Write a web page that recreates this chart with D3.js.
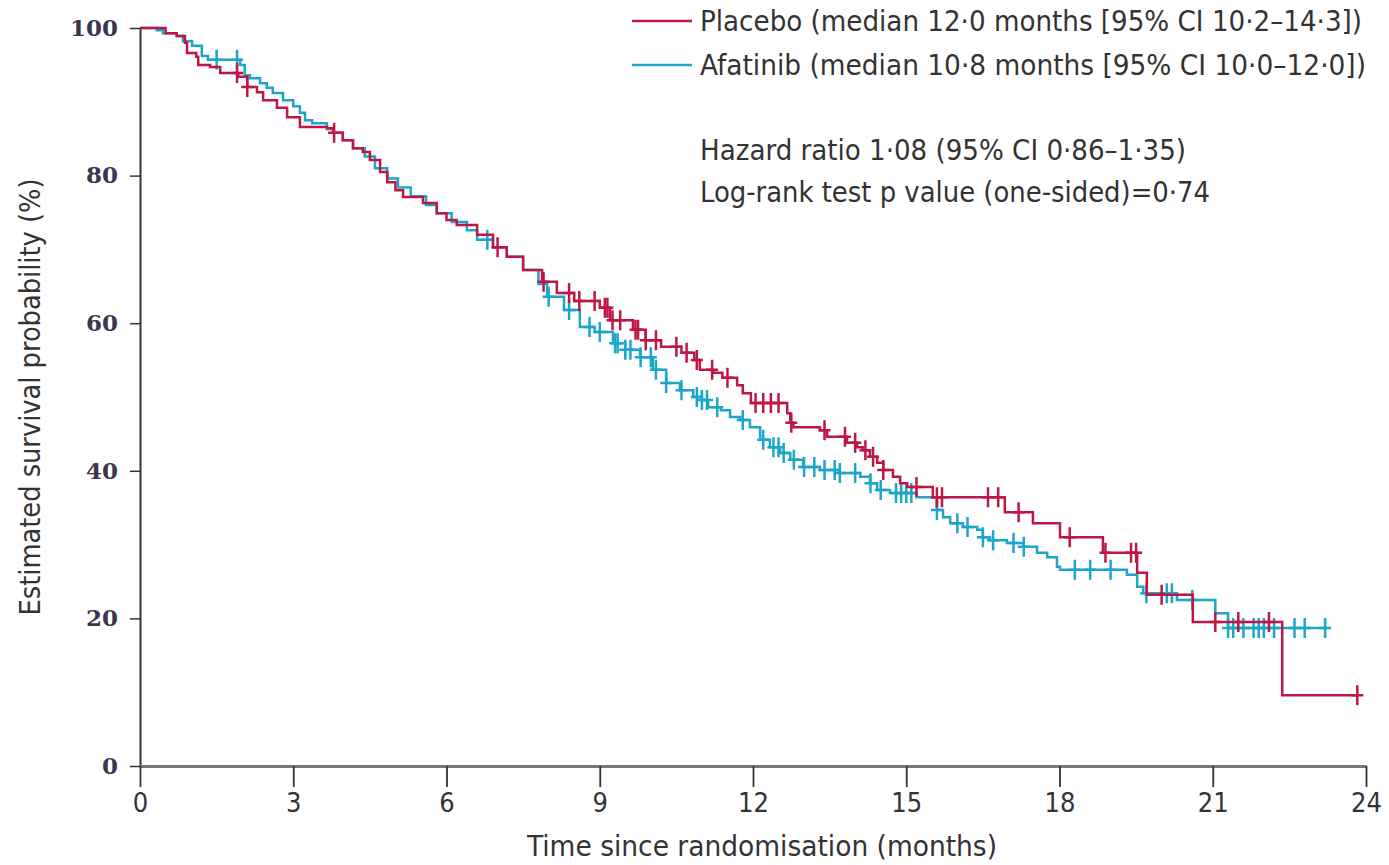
<!DOCTYPE html>
<html>
<head>
<meta charset="utf-8">
<script src="https://cdn.jsdelivr.net/npm/d3@7"></script>
<style>
  html, body { margin: 0; padding: 0; background: #fff; }
  svg { display: block; }
</style>
</head>
<body>
<svg id="chart" width="1389" height="865"></svg>
<script>
// ---------------- data ----------------
const xTicks = [0, 3, 6, 9, 12, 15, 18, 21, 24];
const yTicks = [0, 20, 40, 60, 80, 100];

// Placebo: step times (months) and survival (%) after each step
const placeboTimes = [0, 0.5, 0.72, 0.88, 0.92, 1.1, 1.14, 1.37, 1.57, 1.92, 2.1, 2.29, 2.41, 2.68, 2.88, 3.13, 3.66, 3.78, 3.97, 4.17, 4.36, 4.5, 4.7, 4.84, 5.0, 5.15, 5.54, 5.81, 6.0, 6.2, 6.6, 6.91, 7.18, 7.5, 7.87, 8.16, 8.5, 9.0, 9.2, 9.65, 9.9, 10.2, 10.6, 10.85, 10.96, 11.22, 11.4, 11.69, 11.8, 11.96, 12.67, 12.73, 12.79, 13.31, 13.45, 13.84, 14.04, 14.15, 14.29, 14.43, 14.55, 14.74, 14.88, 15.02, 15.52, 16.93, 17.48, 18.01, 18.85, 19.52, 19.71, 20.61, 22.36, 23.83];
const placeboSurv  = [100, 99.3, 98.9, 98.0, 96.6, 96.1, 95.0, 94.7, 93.9, 93.4, 92.0, 91.3, 90.2, 89.2, 87.9, 86.6, 86.4, 85.8, 84.8, 83.7, 83.2, 82.1, 80.5, 79.1, 78.0, 77.1, 76.3, 74.9, 74.0, 73.3, 72.0, 70.3, 69.0, 67.2, 65.6, 64.1, 63.0, 62.1, 60.4, 59.1, 57.7, 56.8, 56.0, 55.0, 53.7, 53.3, 52.6, 51.6, 50.5, 49.2, 47.8, 46.5, 45.9, 45.5, 44.6, 43.8, 43.2, 42.8, 41.9, 41.1, 40.1, 39.2, 38.3, 37.8, 36.4, 34.4, 32.9, 31.0, 28.9, 26.2, 23.2, 19.5, 9.6, 9.6];
const placeboCensor = [1.9, 2.1, 3.8, 7.0, 7.9, 8.4, 8.6, 8.9, 9.1, 9.15, 9.25, 9.4, 9.7, 9.75, 9.9, 10.1, 10.5, 10.7, 10.9, 11.2, 11.5, 12.05, 12.2, 12.35, 12.5, 12.75, 13.4, 13.8, 14.0, 14.2, 14.35, 14.55, 15.2, 15.6, 15.7, 16.6, 16.8, 17.2, 18.2, 18.9, 19.4, 19.5, 20.0, 21.05, 21.5, 22.1, 23.83];

// Afatinib
const afatinibTimes = [0, 0.33, 0.45, 0.72, 0.84, 1.02, 1.21, 1.33, 1.96, 2.05, 2.15, 2.35, 2.48, 2.6, 2.8, 3.0, 3.13, 3.23, 3.37, 3.66, 3.78, 3.97, 4.17, 4.4, 4.6, 4.84, 5.05, 5.3, 5.6, 5.81, 6.1, 6.4, 6.6, 6.91, 7.18, 7.5, 7.8, 7.97, 8.3, 8.61, 8.9, 9.26, 9.5, 9.79, 10.04, 10.3, 10.57, 10.83, 11.0, 11.12, 11.37, 11.55, 11.75, 11.94, 12.14, 12.33, 12.53, 12.73, 12.98, 13.31, 13.7, 14.1, 14.29, 14.43, 14.68, 15.2, 15.6, 15.72, 15.86, 16.11, 16.39, 16.5, 16.64, 16.97, 17.29, 17.56, 17.76, 17.95, 18.01, 19.32, 19.52, 19.64, 20.3, 21.05, 21.3, 23.24];
const afatinibSurv  = [100, 99.7, 99.3, 98.9, 98.2, 97.6, 96.2, 95.7, 95.0, 93.6, 93.2, 92.5, 91.9, 91.2, 90.2, 89.4, 88.5, 87.5, 87.1, 86.3, 85.8, 84.8, 83.7, 82.6, 81.0, 79.6, 78.4, 77.2, 76.0, 74.9, 73.7, 72.6, 71.3, 70.3, 69.0, 67.2, 65.3, 63.6, 61.8, 59.5, 58.8, 57.3, 56.4, 55.4, 53.7, 51.9, 50.9, 50.0, 49.6, 48.6, 48.2, 47.3, 46.9, 45.9, 44.2, 43.2, 42.4, 41.5, 40.5, 40.1, 39.7, 39.2, 38.3, 37.4, 37.0, 36.4, 34.7, 33.7, 32.9, 32.4, 32.0, 31.0, 30.6, 30.2, 29.7, 28.9, 28.3, 27.0, 26.6, 25.9, 24.3, 23.4, 22.5, 20.7, 18.7, 18.7];
const afatinibCensor = [1.5, 1.9, 6.8, 8.0, 8.4, 8.8, 9.0, 9.3, 9.35, 9.5, 9.6, 9.8, 10.0, 10.1, 10.3, 10.6, 10.9, 11.0, 11.1, 11.3, 11.8, 12.2, 12.4, 12.5, 12.6, 12.8, 13.0, 13.2, 13.4, 13.6, 13.7, 14.0, 14.3, 14.5, 14.8, 14.9, 15.0, 15.1, 15.6, 16.0, 16.2, 16.5, 16.7, 17.1, 17.3, 18.3, 18.6, 19.0, 19.7, 20.1, 20.2, 20.6, 21.3, 21.4, 21.6, 21.8, 21.9, 22.0, 22.2, 22.6, 22.8, 23.2];

const legendLabels = [
  "Placebo (median 12·0 months [95% CI 10·2–14·3])",
  "Afatinib (median 10·8 months [95% CI 10·0–12·0])"
];
const statLabels = [
  "Hazard ratio 1·08 (95% CI 0·86–1·35)",
  "Log-rank test p value (one-sided)=0·74"
];
const xTitle = "Time since randomisation (months)";
const yTitle = "Estimated survival probability (%)";

// ---------------- drawing ----------------
const RED = "#bf1745";
const BLUE = "#1ea6c9";
const NARROW = "'Liberation Sans Narrow', 'DejaVu Sans Condensed', 'Liberation Sans', sans-serif";

const svg = d3.select("#chart");
const x = d3.scaleLinear().domain([0, 24]).range([140, 1366]);
const y = d3.scaleLinear().domain([0, 100]).range([766, 28]);

// axes
const yAxis = svg.append("g").attr("transform", `translate(${x(0)},0)`)
  .call(d3.axisLeft(y).tickValues(yTicks).tickSize(10).tickPadding(12).tickSizeOuter(0));
yAxis.select(".domain").attr("stroke", "#333").attr("stroke-width", 2);
yAxis.selectAll(".tick line").attr("stroke", "#333").attr("stroke-width", 1.5);
yAxis.selectAll(".tick text")
  .attr("font-family", "'DejaVu Serif', serif")
  .attr("font-size", 23).attr("font-weight", "bold").attr("fill", "#3a3550");

const xAxis = svg.append("g").attr("transform", `translate(0,${y(0)})`)
  .call(d3.axisBottom(x).tickValues(xTicks).tickSize(21).tickPadding(6).tickSizeOuter(0));
xAxis.select(".domain").attr("stroke", "#777").attr("stroke-width", 3);
xAxis.selectAll(".tick line").attr("stroke", "#333").attr("stroke-width", 1.8);
xAxis.selectAll(".tick text")
  .attr("font-family", NARROW).attr("font-size", 27).attr("fill", "#333");

// curves
function stepFn(times, surv) {
  return t => {
    let i = d3.bisectRight(times, t) - 1;
    if (i < 0) i = 0;
    return surv[i];
  };
}
const arms = [
  { times: placeboTimes, surv: placeboSurv, censor: placeboCensor, color: RED },
  { times: afatinibTimes, surv: afatinibSurv, censor: afatinibCensor, color: BLUE }
];
const line = d3.line().x(d => x(d[0])).y(d => y(d[1])).curve(d3.curveStepAfter);

arms.slice().reverse().forEach(a => {
  const pts = a.times.map((t, i) => [t, a.surv[i]]);
  svg.append("path").datum(pts)
    .attr("d", line).attr("fill", "none")
    .attr("stroke", a.color).attr("stroke-width", 2.5);
  const f = stepFn(a.times, a.surv);
  const g = svg.append("g");
  g.selectAll("path").data(a.censor).join("path")
    .attr("d", t => {
      const cx = x(t), cy = y(f(t));
      return `M${cx},${cy - 10}V${cy + 10}M${cx - 6},${cy}H${cx + 6}`;
    })
    .attr("stroke", a.color).attr("stroke-width", 2.5).attr("fill", "none");
});

// legend
const legend = svg.append("g");
legendLabels.forEach((lab, i) => {
  const ly = 21 + i * 44;
  legend.append("line").attr("x1", 632).attr("x2", 692).attr("y1", ly).attr("y2", ly)
    .attr("stroke", arms[i].color).attr("stroke-width", 2.5);
  legend.append("text").attr("x", 700).attr("y", ly + 10)
    .attr("font-family", NARROW).attr("font-size", 29).attr("fill", "#333")
    .attr("textLength", i === 0 ? 662 : 666).attr("lengthAdjust", "spacingAndGlyphs")
    .text(lab);
});
statLabels.forEach((lab, i) => {
  svg.append("text").attr("x", 700).attr("y", 160 + i * 42)
    .attr("font-family", NARROW).attr("font-size", 29).attr("fill", "#333")
    .attr("textLength", i === 0 ? 486 : 510).attr("lengthAdjust", "spacingAndGlyphs")
    .text(lab);
});

// axis titles
svg.append("text").attr("x", 762).attr("y", 856).attr("text-anchor", "middle")
  .attr("font-family", NARROW).attr("font-size", 28).attr("fill", "#333")
  .attr("textLength", 470).attr("lengthAdjust", "spacingAndGlyphs")
  .text(xTitle);
svg.append("text").attr("transform", "translate(40,397) rotate(-90)")
  .attr("text-anchor", "middle")
  .attr("font-family", NARROW).attr("font-size", 29).attr("fill", "#333")
  .attr("textLength", 437).attr("lengthAdjust", "spacingAndGlyphs")
  .text(yTitle);
</script>
</body>
</html>
